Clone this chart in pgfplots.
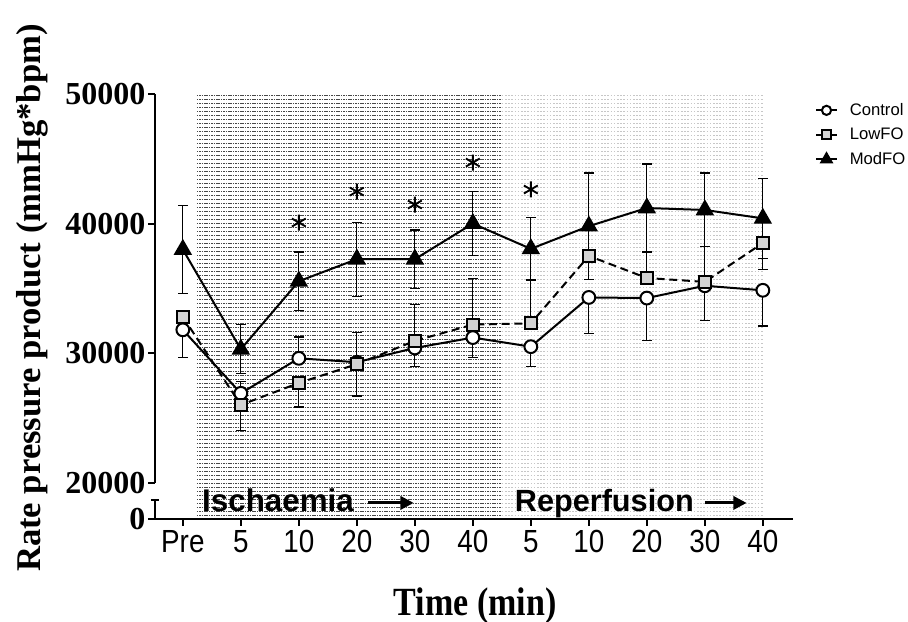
\documentclass[border=0pt]{standalone}
\usepackage{fontspec}
\setmainfont{Liberation Serif}
\setsansfont{Liberation Sans}
\newfontfamily\condserif{Liberation Serif}[FakeStretch=0.85]
\newfontfamily\condsans{Liberation Sans}[FakeStretch=0.87]
\usepackage{pgfplots}
\pgfplotsset{compat=1.18}
\usetikzlibrary{arrows.meta}
\definecolor{lowfill}{RGB}{211,211,211}

\begin{document}
\begin{tikzpicture}
\begin{axis}[
    scale only axis,
    width=478.5pt, height=318.75pt,
    xmin=-0.48, xmax=10.52,
    ymin=17200, ymax=50000,
    axis lines=left,
    axis line style={-, line width=1.5pt},
    y axis line style={draw=none},
    xtick={0,...,10},
    xticklabels={Pre,5,10,20,30,40,5,10,20,30,40},
    ytick={17200,20000,30000,40000,50000},
    yticklabels={0,20000,30000,40000,50000},
    scaled y ticks=false,
    tick align=outside,
    major tick length=5pt,
    every tick/.style={black, line width=1.5pt},
    xticklabel style={font=\condsans\fontsize{24}{24}\selectfont},
    yticklabel style={font=\bfseries\fontsize{24}{24}\selectfont, inner sep=2pt},
    xlabel={Time (min)},
    xlabel style={font=\condserif\bfseries\fontsize{30}{30}\selectfont,
        at={([yshift=-72pt]axis description cs:0.5016,0)}, anchor=base},
    ylabel={Rate pressure product (mmHg*bpm)},
    ylabel style={font=\bfseries\fontsize{26}{26}\selectfont,
        at={([xshift=-86pt]axis description cs:0,0.52)}, anchor=base},
    clip=false,
    legend style={at={(axis description cs:1.0345,0.985)}, anchor=north west,
        draw=none, fill=none, inner sep=0pt, row sep=4pt, column sep=7pt,
        font=\sffamily\fontsize{12.5}{12.5}\selectfont},
    legend cell align=left,
    legend image code/.code={
        \draw[#1, mark repeat=2, mark phase=2, every mark/.append style={scale=0.72}]
            plot coordinates {(0cm,0cm) (0.27cm,0cm) (0.54cm,0cm)};},
    error bars/error bar style={line width=0.9pt, solid},
    error bars/error mark options={line width=0.9pt, mark size=3.5pt, solid, rotate=90},
]
% coordinate for the bounding box
\coordinate (O) at (rel axis cs:0,0);

% shaded periods: rows of dots
\pgfplotsinvokeforeach{0,...,105}{
    \draw[black!72, line width=0.7pt, dash pattern=on 1.2pt off 0.6pt]
        (rel axis cs:0.0655,{0.997-#1*0.00941}) -- (rel axis cs:0.5436,{0.997-#1*0.00941});
    \draw[black!22, line width=0.7pt, dash pattern=on 1.2pt off 1.2pt]
        (rel axis cs:0.5436,{0.997-#1*0.00941}) -- (rel axis cs:0.9527,{0.997-#1*0.00941});
}

% broken y axis
\draw[line width=1.5pt] (axis cs:-0.48,20000) -- (axis cs:-0.48,50000);
\draw[line width=1.5pt] (axis cs:-0.48,17200) -- (axis cs:-0.48,18690);
\draw[line width=1.5pt] ([xshift=-3pt]axis cs:-0.48,18690) -- ([xshift=3pt]axis cs:-0.48,18690);

% period labels
\node[anchor=base west, inner sep=0pt, font=\sffamily\bfseries\fontsize{23.5}{23.5}\selectfont]
    at (axis cs:0.33,17764) {Ischaemia};
\node[anchor=base west, inner sep=0pt, font=\sffamily\bfseries\fontsize{23}{23}\selectfont]
    at (axis cs:5.72,17764) {Reperfusion};
\draw[line width=2.2pt, -{Triangle[length=10pt, width=10pt]}] (axis cs:3.2,18440) -- (axis cs:3.98,18440);
\draw[line width=2.2pt, -{Triangle[length=10pt, width=10pt]}] (axis cs:9.0,18440) -- (axis cs:9.72,18440);

% Control
\addplot[black, line width=1.5pt, mark=*, mark size=4.8pt,
    mark options={fill=white, draw=black, line width=1.5pt},
    error bars/.cd, y dir=both, y explicit]
coordinates {
    (0,31800) += (0,0) -= (0,2150)
    (1,26900) += (0,900) -= (0,0)
    (2,29600) += (0,1650) -= (0,0)
    (3,29300) += (0,2300) -= (0,0)
    (4,30400) += (0,0) -= (0,1450)
    (5,31200) += (0,0) -= (0,1550)
    (6,30500) += (0,0) -= (0,1550)
    (7,34300) += (0,0) -= (0,2800)
    (8,34250) += (0,0) -= (0,3300)
    (9,35200) += (0,0) -= (0,2650)
    (10,34850) += (0,0) -= (0,2750)
};
% LowFO
\addplot[black, line width=1.5pt, dash pattern=on 6pt off 3.5pt, mark=square*, mark size=4.6pt,
    mark options={fill=lowfill, draw=black, line width=1.5pt, solid},
    error bars/.cd, y dir=both, y explicit]
coordinates {
    (0,32800) += (0,0) -= (0,0)
    (1,26000) += (0,0) -= (0,1950)
    (2,27700) += (0,0) -= (0,1850)
    (3,29150) += (0,0) -= (0,2450)
    (4,30950) += (0,2800) -= (0,0)
    (5,32200) += (0,3550) -= (0,0)
    (6,32300) += (0,3350) -= (0,0)
    (7,37500) += (0,2000) -= (0,0)
    (8,35800) += (0,2000) -= (0,0)
    (9,35500) += (0,2700) -= (0,0)
    (10,38500) += (0,0) -= (0,2050)
};
% ModFO
\addplot[black, line width=1.5pt, mark=triangle*, mark size=7pt,
    mark options={fill=black, draw=black, line width=1pt},
    error bars/.cd, y dir=both, y explicit]
coordinates {
    (0,38000) +- (0,3400)
    (1,30300) +- (0,1900)
    (2,35550) +- (0,2250)
    (3,37250) +- (0,2850)
    (4,37250) +- (0,2250)
    (5,40000) +- (0,2450)
    (6,38050) +- (0,2400)
    (7,39800) +- (0,4100)
    (8,41200) +- (0,3400)
    (9,41050) +- (0,2850)
    (10,40400) +- (0,3100)
};
\legend{Control,LowFO,ModFO}

% significance asterisks
\addplot[forget plot, only marks, mark=asterisk, mark size=6pt,
    mark options={line width=1.4pt, black}]
coordinates {(2,40080) (3,42470) (4,41470) (5,44710) (6,42630)};
\end{axis}
\pgfresetboundingbox
\path ([shift={(-116.25pt,-77.25pt)}]O) rectangle ([shift={(564.75pt,389.25pt)}]O);
\end{tikzpicture}
\end{document}
